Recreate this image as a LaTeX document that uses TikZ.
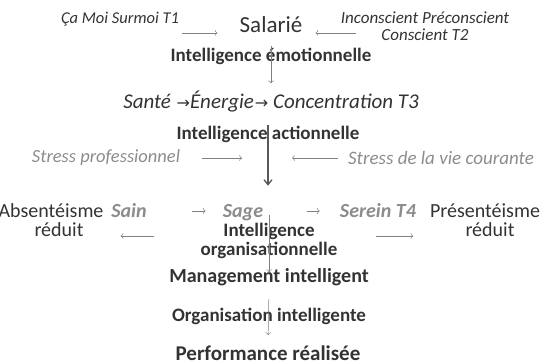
\documentclass[tikz,border=0pt]{standalone}
\usepackage{fontspec}
\usetikzlibrary{arrows.meta}
\setmainfont{Carlito}
\newfontfamily\symfont{DejaVu Sans}
\newcommand{\fs}[1]{\fontsize{#1}{#1}\selectfont}
\newcommand{\ar}{{\symfont\fontsize{16}{16}\selectfont\kern1pt→}}
\begin{document}
\begin{tikzpicture}[x=1pt,y=-1pt,
    every node/.style={inner sep=0pt,text=black!80},
    lbl/.style={font=\bfseries\fs{19}},
    pale/.style={text=black!45},
    row/.style={anchor=base,font=\fs{20}},
    thin arrow/.style={->,draw=black!50,line width=0.5pt},
    main arrow/.style={-{Straight Barb[length=5pt,width=8pt]},draw=black!65,line width=1.3pt}]
  \useasboundingbox (0,0) rectangle (542,364);
  \draw
    (120,19) node[font=\itshape\fs{16.5}] (ca){Ça Moi Surmoi T1}
    (271,25) node[font=\fs{23}] (salarie){Salarié}
    (425,26) node[font=\itshape\fs{17},align=center] (incons){Inconscient Préconscient\\Conscient T2}
    (271,56) node[lbl] (emo){Intelligence émotionnelle}
    (271,102) node[font=\itshape\fs{21}] (sante){Santé \ar\'Energie\ar\ Concentration T3}
    (268,134) node[lbl] (action){Intelligence actionnelle}
    (106,158) node[pale,font=\itshape\fs{18.5}] (stressP){Stress professionnel}
    (441,158) node[pale,font=\itshape\fs{19}] (stressV){Stress de la vie courante}
    (51,217) node[row] (absent){Absentéisme}
    (59,236) node[row] (redL){réduit}
    (129,217) node[row,pale,font=\bfseries\itshape\fs{20}] (sain){Sain}
    (243,217) node[row,pale,font=\bfseries\itshape\fs{20}] (sage){Sage}
    (378,217) node[row,pale,font=\bfseries\itshape\fs{20}] (serein){Serein T4}
    (485,217) node[row] (present){Présentéisme}
    (490,236) node[row] (redR){réduit}
    (269,241) node[lbl,align=center] (orga){Intelligence\\organisationnelle}
    (269,277) node[font=\bfseries\fs{20}] (manag){Management intelligent}
    (269,316) node[lbl] (orgint){Organisation intelligente}
    (268,360) node[anchor=base,font=\bfseries\fs{21}] (perf){Performance réalisée};
  \begin{scope}[thin arrow]
    \draw[shorten <=3pt,shorten >=22pt] (ca.east |- salarie.base) to (salarie.base west);
    \draw[shorten <=-15pt,shorten >=13pt] (incons.west |- salarie.base) to (salarie.base east);
    \draw[shorten <=13pt,shorten >=8pt] (salarie.south) to (salarie.south |- sante.north);
    \draw[shorten <=22pt,shorten >=26pt] (stressP.east) to (stressP.east -| action.center);
    \draw[shorten <=10pt,shorten >=24pt] (stressV.west) to (stressV.west -| action.center);
    \draw[shorten <=45pt,shorten >=17pt] ([yshift=6pt]sain.base east) to ([yshift=6pt]sage.base west);
    \draw[shorten <=44pt,shorten >=20pt] ([yshift=6pt]sage.base east) to ([yshift=6pt]serein.base west);
    \draw[shorten <=46pt,shorten >=37pt] (orga.west |- redL.base) to (redL.base east);
    \draw[shorten <=38pt,shorten >=52pt] (orga.east |- redR.base) to (redR.base west);
    \draw[shorten <=-8pt,shorten >=-4pt] (orga.north) to (manag.north);
    \draw[shorten <=13pt,shorten >=10pt] (manag.south) to (perf.north);
  \end{scope}
  \draw[main arrow,shorten <=12pt,shorten >=18pt] (sante.south -| action.center) to (sage.north -| action.center);
\end{tikzpicture}
\end{document}
